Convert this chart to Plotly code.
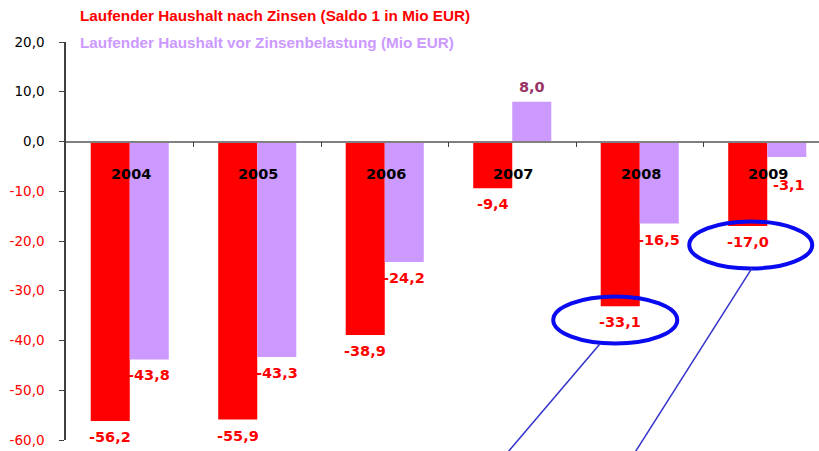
import plotly.graph_objects as go

years = ["2004", "2005", "2006", "2007", "2008", "2009"]
nach_zinsen = [-56.2, -55.9, -38.9, -9.4, -33.1, -17.0]
vor_zinsen = [-43.8, -43.3, -24.2, 8.0, -16.5, -3.1]
name_nach = "Laufender Haushalt nach Zinsen (Saldo 1 in Mio EUR)"
name_vor = "Laufender Haushalt vor Zinsenbelastung (Mio EUR)"
y_ticks = [20, 10, 0, -10, -20, -30, -40, -50, -60]

RED = "#FF0000"
PURPLE = "#CC99FF"
POS_LABEL = "#993366"
FONT = "DejaVu Sans, Verdana, sans-serif"
LEG_FONT = "Liberation Sans, Arial, sans-serif"

xs = list(range(len(years)))

def de(v):
    return f"{v:.1f}".replace(".", ",")

fig = go.Figure()
fig.add_trace(go.Bar(x=xs, y=nach_zinsen, marker_color=RED, marker_line_width=0, name=name_nach))
fig.add_trace(go.Bar(x=xs, y=vor_zinsen, marker_color=PURPLE, marker_line_width=0, name=name_vor))

ann = []
# year labels
for i, yr in enumerate(years):
    ann.append(dict(x=i, y=0, xref="x", yref="y", text=f"<b>{yr}</b>", showarrow=False,
                    yshift=-32, xshift=1, font=dict(family=FONT, size=14.5, color="black")))
# red labels
for i, v in enumerate(nach_zinsen):
    ann.append(dict(x=i, y=v, xref="x", yref="y", text=f"<b>{de(v)}</b>", showarrow=False,
                    xshift=-19.5, yshift=-16, font=dict(family=FONT, size=14.5, color=RED if v < 0 else POS_LABEL)))
# purple labels
p_yshift = [-16, -16, -16, 15, -16, -28]
p_xshift = [19.5, 19.5, 19.5, 19.5, 19.5, 22]
for i, v in enumerate(vor_zinsen):
    ann.append(dict(x=i, y=v, xref="x", yref="y", text=f"<b>{de(v)}</b>", showarrow=False,
                    xshift=p_xshift[i], yshift=p_yshift[i],
                    font=dict(family=FONT, size=14.5, color=RED if v < 0 else POS_LABEL)))
# legend texts
ann.append(dict(x=0.016, y=1.066, xref="paper", yref="paper", xanchor="left", yanchor="middle",
                text=f"<b>{name_nach}</b>", showarrow=False,
                font=dict(family=LEG_FONT, size=15.3, color=RED)))
ann.append(dict(x=0.016, y=0.998, xref="paper", yref="paper", xanchor="left", yanchor="middle",
                text=f"<b>{name_vor}</b>", showarrow=False,
                font=dict(family=LEG_FONT, size=15.3, color=PURPLE)))

shapes = []
# ellipses around the 2008 and 2009 red labels
ell = [(4, nach_zinsen[4], -67, 57, 9.7, -37.3), (5, nach_zinsen[5], -58.5, 64.5, 4.6, -42.4)]
for i, v, x0, x1, y0, y1 in ell:
    shapes.append(dict(type="circle", xref="x", yref="y", xsizemode="pixel", ysizemode="pixel",
                       xanchor=i - 0.153, yanchor=v, x0=x0, x1=x1, y0=y1, y1=y0,
                       line=dict(color="#0A0AF0", width=4), layer="above"))
# pointer lines
for (a, b, c, d) in [(0.709, 0.241, 0.587, -0.03), (0.911, 0.432, 0.756, -0.03)]:
    shapes.append(dict(type="line", xref="paper", yref="paper", x0=a, y0=b, x1=c, y1=d,
                       line=dict(color="#3333CC", width=1.5), layer="above"))

ticktext = [f"<span style='color:{RED}'>{de(t)}</span>" if t < 0 else de(t) for t in y_ticks]

fig.update_layout(
    width=819, height=451,
    margin=dict(l=66, r=0, t=42, b=11),
    paper_bgcolor="white", plot_bgcolor="white",
    barmode="group", bargap=0.388, bargroupgap=0,
    showlegend=False,
    annotations=ann, shapes=shapes,
    xaxis=dict(range=[-0.5, -0.5 + 753 / 127.5], anchor="free", position=0.75,
               showline=True, linecolor="#808080", linewidth=1.5,
               tickmode="array", tickvals=[0.5, 1.5, 2.5, 3.5, 4.5], ticks="outside",
               ticklen=5, tickcolor="#404040", tickwidth=1,
               showticklabels=False, showgrid=False, zeroline=False),
    yaxis=dict(range=[-60, 20], tickmode="array", tickvals=y_ticks, ticktext=ticktext,
               showline=True, linecolor="#404040", linewidth=1.5,
               ticks="outside", ticklen=5, tickcolor="#404040",
               showgrid=False, zeroline=False, ticklabelstandoff=12,
               tickfont=dict(family=FONT, size=13.5, color="black")),
)

fig.write_html("out.html", config={"displayModeBar": False},
               post_script="document.body.style.margin='0px';")
